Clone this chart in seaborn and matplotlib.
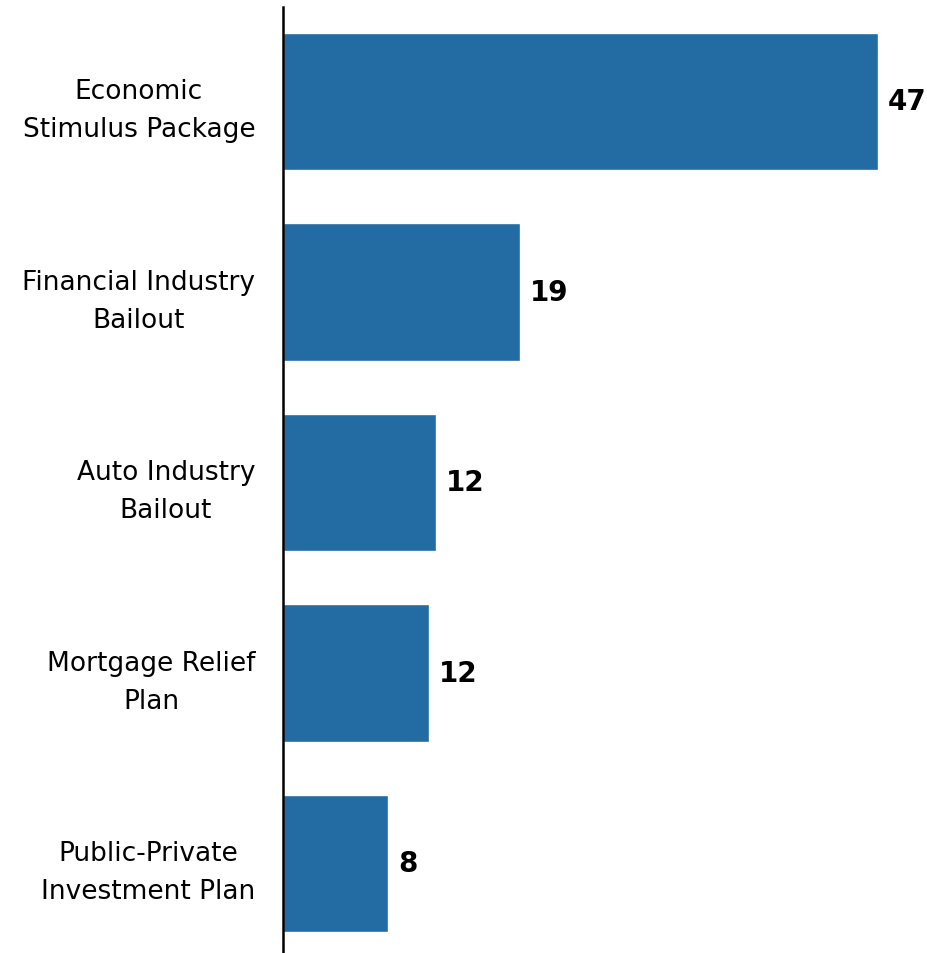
import matplotlib
matplotlib.use("Agg")
import matplotlib.pyplot as plt
import seaborn as sns
import pandas as pd

# Spending programs and their values (labels show rounded numbers)
programs = [
    "Economic\nStimulus Package",
    "Financial Industry\nBailout",
    "Auto Industry\nBailout",
    "Mortgage Relief\nPlan",
    "Public-Private\nInvestment Plan",
]
values = [47.0, 18.7, 12.1, 11.5, 8.3]

df = pd.DataFrame({"program": programs, "value": values})

sns.set_style("white")
plt.rcParams["font.family"] = ["DejaVu Sans"]

fig = plt.figure(figsize=(9.27, 9.54), dpi=100)
ax = fig.add_axes([283 / 927, 0.0, 1 - 283 / 927, 1 - 8 / 954])

bar_color = "#226ba3"
sns.barplot(data=df, x="value", y="program", orient="h", color=bar_color,
            width=0.72, saturation=1, ax=ax)

ax.set_xlim(0, 50.87)
ax.set_ylim(4.47, -0.496)

for i, v in enumerate(values):
    ax.text(v + 0.8, i, f"{v:.0f}", va="center", ha="left",
            fontsize=20, fontweight="bold", color="black")

ax.set_xlabel("")
ax.set_ylabel("")
ax.set_xticks([])
ax.tick_params(axis="y", length=0, pad=20, labelsize=19, labelcolor="black")
for lbl in ax.get_yticklabels():
    lbl.set_multialignment("center")
    lbl.set_linespacing(1.6)

for side in ["top", "right", "bottom"]:
    ax.spines[side].set_visible(False)
ax.spines["left"].set_color("black")
ax.spines["left"].set_linewidth(1.8)

fig.savefig("out.png", dpi=100)
